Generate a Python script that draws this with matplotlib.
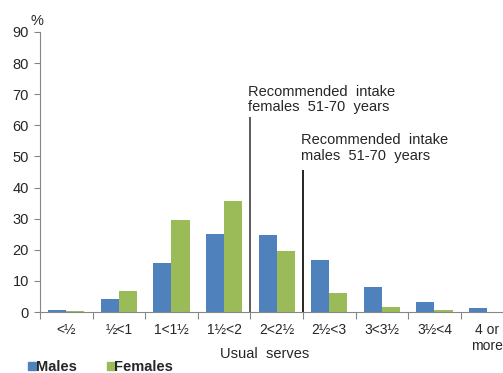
import numpy as np
import matplotlib
matplotlib.use("Agg")
from matplotlib import pyplot as plt
from matplotlib.lines import Line2D

plt.rcParams['font.family'] = ['Liberation Sans', 'DejaVu Sans']

categories = ['<½', '½<1', '1<1½', '1½<2', '2<2½', '2½<3', '3<3½', '3½<4', '4 or\nmore']
males = [0.5, 4.3, 15.6, 25.1, 24.8, 16.8, 8.0, 3.3, 1.4]
females = [0.4, 6.6, 29.6, 35.7, 19.6, 6.2, 1.5, 0.5, 0.0]
rec_female = 3.5
rec_male = 4.5
rec_female_top = 62.8
rec_male_top = 45.7

blue = '#4F81BD'
green = '#9BBB59'
grey = '#868686'
txt = '#262626'

fig = plt.figure(figsize=(5.03, 3.73), dpi=100)
ax = fig.add_axes([0.0795, 0.1635, 0.941, 0.751])

x = np.arange(len(categories))
w = 0.345
ax.bar(x - w/2, males, w, color=blue, label='Males')
ax.bar(x + w/2, females, w, color=green, label='Females')

ax.vlines(rec_female, 0, rec_female_top, color='#404040', lw=1.2)
ax.vlines(rec_male, 0, rec_male_top, color='black', lw=1.2)
ax.text(rec_female - 0.05, rec_female_top + 5.5, 'Recommended  intake\nfemales  51-70  years',
        fontsize=10.5, color=txt, va='center', ha='left', linespacing=1.15)
ax.text(rec_male - 0.04, rec_male_top + 7.0, 'Recommended  intake\nmales  51-70  years',
        fontsize=10.5, color=txt, va='center', ha='left', linespacing=1.15)

ax.set_xlim(-0.5, len(categories) - 0.5)
ax.set_ylim(0, 90)
ax.set_yticks(range(0, 91, 10))
ax.set_xticks(np.arange(-0.5, len(categories), 1.0))
ax.set_xticklabels([])
ax.set_xticks(x, minor=True)
ax.set_xticklabels(categories, minor=True, fontsize=10, color=txt)
ax.tick_params(axis='x', which='minor', length=0, pad=8)
ax.tick_params(axis='x', which='major', length=5, color=grey)
ax.tick_params(axis='y', length=4, color=grey, labelsize=10.5, labelcolor=txt, pad=4)
for s in ['top', 'right']:
    ax.spines[s].set_visible(False)
ax.spines['left'].set_color(grey)
ax.spines['bottom'].set_color(grey)

fig.text(0.074, 0.925, '%', fontsize=10.5, color=txt, ha='center', va='bottom')
fig.text(0.527, 0.05, 'Usual  serves', fontsize=10.5, color=txt, ha='center', va='center')

handles = [Line2D([], [], marker='s', ls='', color=blue, markersize=6.2),
           Line2D([], [], marker='s', ls='', color=green, markersize=6.2)]
leg = fig.legend(handles, ['Males', 'Females'], loc='center left', bbox_to_anchor=(0.036, 0.016),
                 ncol=2, frameon=False, handletextpad=-0.2, columnspacing=1.9,
                 prop={'weight': 'bold', 'size': 10.5}, handlelength=0.9, borderpad=0.0)
for t in leg.get_texts():
    t.set_color(txt)

fig.savefig('out.png', dpi=100)
